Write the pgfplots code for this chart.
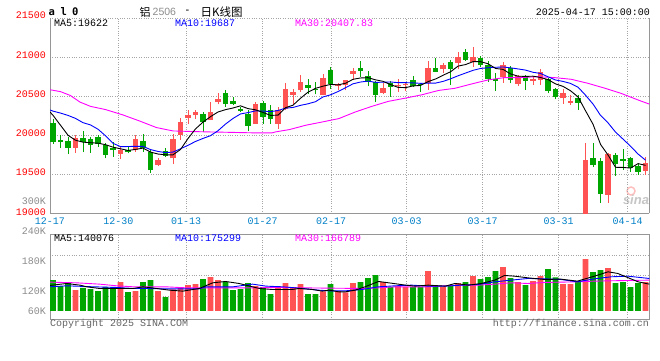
\documentclass[border=0pt]{standalone}
\usepackage{fontspec}
\setmainfont{Liberation Sans}
\setmonofont{Liberation Mono}
\newfontfamily\cjk{Noto Sans CJK SC}
\newfontfamily\dvm{DejaVu Sans Mono}
\usepackage{pgfplots}
\pgfplotsset{compat=1.18}
\definecolor{kred}{RGB}{255,82,82}
\definecolor{kgreen}{RGB}{0,166,0}
\definecolor{pred}{RGB}{255,0,0}
\definecolor{dblue}{RGB}{0,128,200}
\definecolor{mablue}{RGB}{0,0,255}
\definecolor{mamag}{RGB}{255,0,255}
\definecolor{gridc}{RGB}{165,165,165}
\definecolor{bordc}{RGB}{150,150,150}
\definecolor{txtgray}{RGB}{140,140,140}
\definecolor{copyc}{RGB}{100,100,100}
\tikzset{t/.style={font=\ttfamily\fontsize{10}{12}\selectfont, inner sep=0pt},
  hb/.style={inner sep=0pt, font=\dvm\bfseries\fontsize{10.5}{12}\selectfont}}
% candle: index, open, high, low, close
\newcommand\Cb[6]{\addplot[#6, line width=1pt] coordinates {(#1,#4)(#1,#5)};
  \addplot[#6, line width=5.8pt] coordinates {(#1,#2)(#1,#3)};}
\newcommand\Cgreen[5]{\Cb{#1}{#5}{#2}{#4}{#3}{kgreen}}
\newcommand\Cred[5]{\Cb{#1}{#2}{#5}{#4}{#3}{kred}}
\newcommand\C[5]{\ifnum#5<#2 \expandafter\Cgreen\else\expandafter\Cred\fi{#1}{#2}{#3}{#4}{#5}}
\pgfplotsset{sinaax/.style={scale only axis, width=599.3pt, xmin=-0.4, xmax=79.5,
  xtick={-0.4,8.71,17.73,27.93,37.07,47.16,57.29,67.43,76.63},
  xticklabels={}, yticklabels={}, major tick length=0pt,
  scaled x ticks=false, scaled y ticks=false,
  xmajorgrids, ymajorgrids,
  major grid style={gridc, dotted, line width=0.8pt},
  axis line style={bordc, line width=1pt}}}
\begin{document}
\begin{tikzpicture}
\fill[white] (0pt,0pt) rectangle (660pt,360pt);
\useasboundingbox (0pt,0pt) rectangle (660pt,360pt);
% watermark
\draw[red!25, line width=1.5pt] (631pt,169pt) circle (4pt);
\node[inner sep=0pt, text=gray!45, font=\rmfamily\bfseries\itshape\fontsize{13}{14}\selectfont] at (636pt,160pt) {sina};
% price axis
\begin{axis}[sinaax, at={(50pt,146.7pt)}, anchor=south west, height=195pt,
  ymin=19000, ymax=21500, ytick={19000,19500,20000,20500,21000,21500},
  axis x line*=bottom, axis y line*=box]
\C{0}{20160}{20205}{19890}{19912}
\C{1}{19946}{19998}{19836}{19912}
\C{2}{19922}{19982}{19760}{19838}
\C{3}{19836}{20002}{19770}{19968}
\C{4}{19970}{20050}{19780}{19910}
\C{5}{19950}{19978}{19776}{19882}
\C{6}{19980}{20001}{19853}{19886}
\C{7}{19870}{19904}{19704}{19746}
\C{8}{19831}{19916}{19725}{19810}
\C{9}{19759}{19844}{19691}{19810}
\C{10}{19806}{19853}{19767}{19780}
\C{11}{19810}{20001}{19789}{19950}
\C{12}{19929}{20022}{19789}{19831}
\C{13}{19780}{19810}{19521}{19555}
\C{14}{19619}{19704}{19606}{19683}
\C{15}{19797}{19831}{19716}{19733}
\C{16}{19704}{20014}{19632}{19950}
\C{17}{20001}{20227}{19946}{20171}
\C{18}{20222}{20320}{20150}{20256}
\C{19}{20256}{20329}{20214}{20299}
\C{20}{20277}{20299}{20044}{20171}
\C{21}{20192}{20426}{20192}{20299}
\C{22}{20426}{20541}{20396}{20469}
\C{23}{20545}{20575}{20362}{20405}
\C{24}{20435}{20490}{20384}{20405}
\C{25}{20341}{20362}{20299}{20311}
\C{26}{20277}{20320}{20052}{20120}
\C{27}{20150}{20426}{20150}{20396}
\C{28}{20418}{20439}{20150}{20235}
\C{29}{20320}{20384}{20150}{20214}
\C{30}{20150}{20362}{20086}{20329}
\C{31}{20341}{20668}{20320}{20596}
\C{32}{20520}{20596}{20396}{20554}
\C{33}{20575}{20779}{20554}{20681}
\C{34}{20639}{20724}{20532}{20605}
\C{35}{20596}{20681}{20524}{20575}
\C{36}{20520}{20788}{20511}{20737}
\C{37}{20839}{20881}{20596}{20660}
\C{38}{20630}{20668}{20575}{20660}
\C{39}{20639}{20711}{20575}{20703}
\C{40}{20788}{20864}{20711}{20830}
\C{41}{20864}{20958}{20745}{20822}
\C{42}{20754}{20830}{20626}{20681}
\C{43}{20681}{20694}{20426}{20520}
\C{44}{20541}{20668}{20524}{20609}
\C{45}{20668}{20694}{20490}{20618}
\C{46}{20626}{20724}{20554}{20647}
\C{47}{20639}{20681}{20567}{20660}
\C{48}{20711}{20754}{20618}{20630}
\C{49}{20660}{20668}{20554}{20639}
\C{50}{20668}{20949}{20584}{20864}
\C{51}{20864}{20992}{20809}{20817}
\C{52}{20846}{20932}{20795}{20902}
\C{53}{20944}{20966}{20646}{20850}
\C{54}{20932}{21064}{20846}{21000}
\C{55}{21064}{21107}{20957}{20966}
\C{56}{20940}{21137}{20872}{21000}
\C{57}{20987}{21021}{20880}{20902}
\C{58}{20902}{20957}{20688}{20718}
\C{59}{20718}{20795}{20573}{20701}
\C{60}{20752}{20944}{20675}{20902}
\C{61}{20859}{20893}{20667}{20710}
\C{62}{20658}{20774}{20633}{20761}
\C{63}{20761}{20774}{20582}{20701}
\C{64}{20701}{20761}{20646}{20718}
\C{65}{20710}{20846}{20646}{20816}
\C{66}{20718}{20731}{20539}{20573}
\C{67}{20594}{20603}{20462}{20488}
\C{68}{20475}{20590}{20402}{20539}
\C{69}{20419}{20517}{20389}{20441}
\C{70}{20475}{20517}{20325}{20419}
\C{71}{18900}{19907}{18850}{19684}
\C{72}{19715}{19907}{19591}{19621}
\C{73}{19676}{19706}{19130}{19249}
\C{74}{19236}{19770}{19130}{19762}
\C{75}{19749}{19779}{19480}{19634}
\C{76}{19698}{19822}{19557}{19676}
\C{77}{19706}{19728}{19535}{19578}
\C{78}{19608}{19642}{19493}{19535}
\C{79}{19548}{19719}{19493}{19651}
% MA30
\addplot[mamag, line width=0.9pt] coordinates {(-0.4,20584)(1,20560)(2.3,20511)(3.6,20426)(5,20371)(7,20330)(9.3,20262)(11.5,20185)(13.8,20099)(16,20056)(18,20050)(20.4,20044)(22.6,20040)(25,20035)(27,20031)(29.2,20031)(29.7,20044)(31.5,20073)(33.7,20129)(35.9,20171)(38.1,20214)(40.3,20299)(42.5,20371)(44.7,20435)(47,20477)(49.2,20520)(51.4,20575)(53.6,20603)(55.8,20658)(58,20710)(60.2,20740)(62.4,20740)(64.6,20752)(66.8,20740)(69.1,20718)(71.3,20667)(73.6,20603)(75.7,20539)(78,20453)(79.5,20400)};
% MA10
\addplot[mablue, line width=0.9pt] coordinates {(-0.4,20325)(0,20310)(1,20285)(2,20255)(3,20217)(4,20162)(5,20133)(6,20078)(7,19994)(8,19897)(9,19855)(10,19856)(11,19859)(12,19858)(13,19817)(14,19793)(15,19778)(16,19785)(17,19827)(18,19872)(19,19921)(20,19960)(21,19995)(22,20059)(23,20144)(24,20216)(25,20274)(26,20291)(27,20313)(28,20311)(29,20303)(30,20318)(31,20348)(32,20357)(33,20384)(34,20404)(35,20431)(36,20492)(37,20519)(38,20561)(39,20610)(40,20660)(41,20683)(42,20695)(43,20679)(44,20680)(45,20684)(46,20675)(47,20675)(48,20672)(49,20666)(50,20669)(51,20669)(52,20691)(53,20724)(54,20763)(55,20798)(56,20833)(57,20857)(58,20866)(59,20872)(60,20876)(61,20865)(62,20851)(63,20836)(64,20808)(65,20793)(66,20750)(67,20709)(68,20691)(69,20665)(70,20617)(71,20514)(72,20400)(73,20255)(74,20159)(75,20041)(76,19951)(77,19860)(78,19760)(79,19681)};
% MA5
\addplot[black, line width=0.9pt] coordinates {(-0.4,20299)(0,20256)(1,20129)(2,20001)(3,19937)(4,19912)(5,19905)(6,19899)(7,19880)(8,19848)(9,19827)(10,19806)(11,19819)(12,19836)(13,19785)(14,19760)(15,19750)(16,19750)(17,19818)(18,19959)(19,20082)(20,20169)(21,20239)(22,20299)(23,20329)(24,20350)(25,20378)(26,20342)(27,20327)(28,20293)(29,20255)(30,20259)(31,20354)(32,20386)(33,20475)(34,20553)(35,20602)(36,20630)(37,20652)(38,20647)(39,20667)(40,20718)(41,20735)(42,20739)(43,20711)(44,20692)(45,20650)(46,20615)(47,20611)(48,20633)(49,20639)(50,20688)(51,20722)(52,20770)(53,20814)(54,20887)(55,20907)(56,20944)(57,20944)(58,20917)(59,20857)(60,20845)(61,20787)(62,20758)(63,20755)(64,20758)(65,20741)(66,20714)(67,20659)(68,20627)(69,20571)(70,20492)(71,20314)(72,20141)(73,19883)(74,19747)(75,19590)(76,19588)(77,19580)(78,19637)(79,19615)};
\end{axis}
% volume axis
\begin{axis}[sinaax, at={(50pt,40.7pt)}, anchor=south west, height=84.6pt,
  ymin=-25.5, ymax=228.3, ytick={44.4,105.3,167.4}]
\addplot[ybar, bar width=0.75, bar shift=0pt, fill=kred, draw=none] coordinates {(3,62)(9,86)(11,59)(14,59)(16,64)(17,71)(18,77)(19,80)(21,101)(22,92)(27,74)(30,74)(31,83)(32,71)(33,80)(36,58)(38,59)(39,55)(40,83)(44,86)(46,74)(47,71)(50,119)(52,71)(54,83)(56,104)(60,131)(62,86)(64,89)(65,104)(68,80)(69,80)(71,155)(74,128)(79,86)};
\addplot[ybar, bar width=0.75, bar shift=0pt, fill=kgreen, draw=none] coordinates {(0,92)(1,74)(2,86)(4,69)(5,65)(6,59)(7,72)(8,70)(10,56)(12,86)(13,92)(15,41)(20,95)(23,86)(24,62)(25,65)(26,83)(28,71)(29,50)(34,50)(35,50)(37,80)(41,86)(42,98)(43,107)(45,71)(48,71)(49,71)(51,74)(53,74)(55,86)(57,95)(58,101)(59,119)(61,98)(63,77)(66,125)(67,100)(70,86)(72,116)(73,122)(75,83)(76,86)(77,71)(78,83)};
\addplot[mamag, line width=0.9pt] coordinates {(-0.4,86)(3.1,84)(6.2,80)(8.5,75)(10.7,72)(15,72)(17.7,69)(20.4,69)(24,69)(26.6,69)(30.6,70)(32.8,69)(36.8,68)(41.2,67)(43.4,69)(45.6,72)(50,72)(52.3,75)(54.5,77)(56.7,77)(58.9,80)(61.1,84)(63.3,82)(65.5,85)(67.7,86)(69.9,87)(72.2,89)(74.4,90)(76.6,91)(79.5,92)};
\addplot[mablue, line width=0.9pt] coordinates {(-0.4,72)(1.8,75)(5.4,72)(8.5,70)(10.7,67)(13,67)(14.3,66)(19.5,66)(20.4,72)(24,72)(26.6,80)(28.4,74)(30.6,72)(32.8,68)(35.4,62)(36.8,60)(39,60)(41.2,64)(43.4,72)(45.6,75)(47.8,77)(50,74)(52.3,74)(54.5,77)(56.7,79)(58.9,87)(61.1,92)(63.3,97)(65.5,96)(67.7,94)(69.9,87)(72.2,96)(74.4,102)(76.6,104)(79.5,97)};
\addplot[black, line width=0.9pt] coordinates {(-0.4,76)(1.8,82)(3.6,77)(4.5,72)(6.2,67)(8.5,67)(10.7,67)(12,72)(13.8,67)(15.5,62)(17.3,59)(19.5,67)(21.3,84)(23,88)(24.8,82)(27.5,67)(29.2,64)(31.9,64)(32.8,67)(34.6,64)(35.9,59)(36.8,62)(38.1,57)(39,57)(40.3,62)(41.6,72)(43.4,88)(45.4,82)(47,77)(48.3,74)(50,77)(52.3,74)(53.6,82)(55.4,77)(57.1,82)(58.9,92)(60.2,106)(61.5,104)(63.3,99)(65.5,94)(67.7,95)(69.9,89)(72.2,104)(74,117)(75.3,112)(76.6,100)(78,87)(79.5,80)};
\end{axis}
% texts
\node[hb, anchor=base west] at (48.5pt,344.5pt) {a};
\node[hb, anchor=base west] at (60.5pt,344.5pt) {l};
\node[hb, anchor=base west] at (72pt,344.5pt) {0};
\node[anchor=west, inner sep=0pt, font=\cjk\fontsize{11}{13}\selectfont] at (139.5pt,348pt) {铝};
\node[anchor=west, inner sep=0pt, text=txtgray, font=\rmfamily\fontsize{10.5}{12}\selectfont] at (152.5pt,348pt) {2506};
\node[inner sep=0pt, font=\rmfamily\fontsize{11}{13}\selectfont] at (187.5pt,348.5pt) {-};
\node[anchor=west, inner sep=0pt, font=\cjk\fontsize{11.5}{13}\selectfont] at (200.5pt,348pt) {日K线图};
\node[t, anchor=east] at (650pt,348pt) {2025-04-17 15:00:00};
\node[t, anchor=west] at (54pt,336.7pt) {MA5:19622};
\node[t, anchor=west, text=mablue] at (175pt,336.7pt) {MA10:19687};
\node[t, anchor=west, text=mamag] at (295pt,336.7pt) {MA30:20407.83};
\node[t, anchor=west] at (54pt,121.7pt) {MA5:140076};
\node[t, anchor=west, text=mablue] at (175pt,121.7pt) {MA10:175299};
\node[t, anchor=west, text=mamag] at (295pt,121.7pt) {MA30:166789};
\node[t, anchor=east, text=pred] at (46pt,344.5pt) {21500};
\node[t, anchor=east, text=pred] at (46pt,305.2pt) {21000};
\node[t, anchor=east, text=pred] at (46pt,266pt) {20500};
\node[t, anchor=east, text=pred] at (46pt,226.7pt) {20000};
\node[t, anchor=east, text=pred] at (46pt,187.5pt) {19500};
\node[t, anchor=east, text=txtgray] at (46pt,159.3pt) {300K};
\node[t, anchor=east, text=pred] at (46pt,147.7pt) {19000};
\node[t, anchor=east, text=txtgray] at (46pt,129.3pt) {240K};
\node[t, anchor=east, text=txtgray] at (46pt,99.3pt) {180K};
\node[t, anchor=east, text=txtgray] at (46pt,69.3pt) {120K};
\node[t, anchor=east, text=txtgray] at (46pt,49.3pt) {60K};
\node[t, text=dblue] at (50pt,139pt) {12-17};
\node[t, text=dblue] at (118.3pt,139pt) {12-30};
\node[t, text=dblue] at (186pt,139pt) {01-13};
\node[t, text=dblue] at (262.5pt,139pt) {01-27};
\node[t, text=dblue] at (331pt,139pt) {02-17};
\node[t, text=dblue] at (406.7pt,139pt) {03-03};
\node[t, text=dblue] at (482.7pt,139pt) {03-17};
\node[t, text=dblue] at (558.7pt,139pt) {03-31};
\node[t, text=dblue] at (627.7pt,139pt) {04-14};
\node[t, anchor=west, text=copyc] at (50pt,36pt) {Copyright 2025 SINA.COM};
\node[t, anchor=east, text=copyc] at (649pt,36pt) {http://finance.sina.com.cn};
\end{tikzpicture}
\end{document}
